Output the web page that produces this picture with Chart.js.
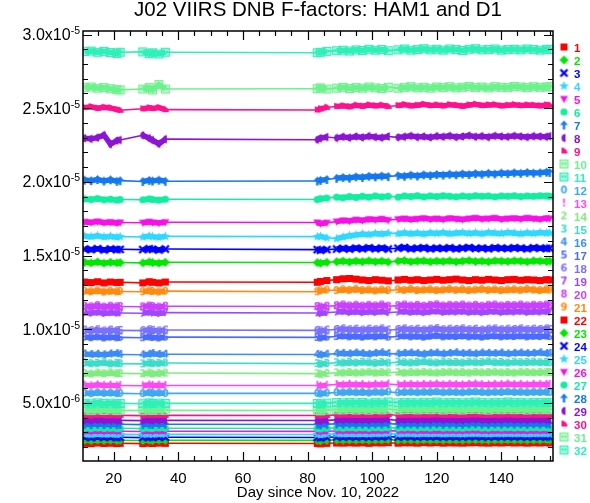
<!DOCTYPE html>
<html>
<head>
<meta charset="utf-8">
<title>J02 VIIRS DNB F-factors: HAM1 and D1</title>
<script src="https://cdn.jsdelivr.net/npm/chart.js@4.4.1/dist/chart.umd.min.js"></script>
<style>
  html, body { margin: 0; padding: 0; background: #fff; }
  canvas { display: block; }
</style>
</head>
<body>
<canvas id="ffChart" width="590" height="503"></canvas>
<script>
// Day since Nov. 10, 2022 (shared by every detector)
const days = [
  11, 13, 15, 17, 19, 21, 22,
  29, 31, 32, 34, 36,
  83, 84, 86,
  89, 91, 93, 95, 97, 99, 101, 103, 105,
  108, 110, 112, 114, 116, 118, 120, 122, 124, 126, 128, 130,
  132, 134, 136, 138, 140, 142, 144, 146, 148, 150, 152, 154,
  155
];

// F-factors in units of 1e-6, one array per detector
const ff01 = [
  2.25, 2.23, 2.27, 2.24, 2.26, 2.23, 2.25,
  2.23, 2.26, 2.24, 2.26, 2.25,
  2.24, 2.21, 2.25,
  2.27, 2.26, 2.28, 2.26, 2.28, 2.25, 2.28, 2.27, 2.29,
  2.26, 2.28, 2.28, 2.26, 2.29, 2.27, 2.29, 2.26, 2.28, 2.27, 2.26, 2.28,
  2.29, 2.27, 2.26, 2.28, 2.27, 2.29, 2.27, 2.28, 2.26, 2.28, 2.27, 2.29,
  2.27
];
const ff02 = [
  2.46, 2.44, 2.48, 2.45, 2.47, 2.44, 2.46,
  2.44, 2.47, 2.45, 2.47, 2.46,
  2.45, 2.42, 2.46,
  2.48, 2.47, 2.49, 2.47, 2.49, 2.46, 2.49, 2.48, 2.50,
  2.47, 2.49, 2.49, 2.47, 2.50, 2.48, 2.50, 2.47, 2.49, 2.48, 2.47, 2.49,
  2.50, 2.48, 2.47, 2.49, 2.48, 2.50, 2.48, 2.49, 2.47, 2.49, 2.48, 2.50,
  2.48
];
const ff03 = [
  2.66, 2.64, 2.68, 2.65, 2.67, 2.64, 2.66,
  2.64, 2.67, 2.65, 2.67, 2.66,
  2.65, 2.62, 2.66,
  2.68, 2.67, 2.69, 2.67, 2.69, 2.66, 2.69, 2.68, 2.70,
  2.67, 2.69, 2.69, 2.67, 2.70, 2.68, 2.70, 2.67, 2.69, 2.68, 2.67, 2.69,
  2.70, 2.68, 2.67, 2.69, 2.68, 2.70, 2.68, 2.69, 2.67, 2.69, 2.68, 2.70,
  2.68
];
const ff04 = [
  2.86, 2.84, 2.88, 2.85, 2.87, 2.84, 2.86,
  2.84, 2.87, 2.85, 2.87, 2.86,
  2.85, 2.82, 2.86,
  2.88, 2.87, 2.89, 2.87, 2.89, 2.86, 2.89, 2.88, 2.90,
  2.87, 2.89, 2.89, 2.87, 2.90, 2.88, 2.90, 2.87, 2.89, 2.88, 2.87, 2.89,
  2.90, 2.88, 2.87, 2.89, 2.88, 2.90, 2.88, 2.89, 2.87, 2.89, 2.88, 2.90,
  2.88
];
const ff05 = [
  3.07, 3.05, 3.09, 3.06, 3.08, 3.05, 3.07,
  3.05, 3.08, 3.06, 3.08, 3.07,
  3.06, 3.03, 3.07,
  3.09, 3.08, 3.10, 3.08, 3.10, 3.07, 3.10, 3.09, 3.11,
  3.08, 3.10, 3.10, 3.08, 3.11, 3.09, 3.11, 3.08, 3.10, 3.09, 3.08, 3.10,
  3.11, 3.09, 3.08, 3.10, 3.09, 3.11, 3.09, 3.10, 3.08, 3.10, 3.09, 3.11,
  3.09
];
const ff06 = [
  3.27, 3.25, 3.29, 3.26, 3.28, 3.25, 3.27,
  3.25, 3.28, 3.26, 3.29, 3.27,
  3.26, 3.23, 3.27,
  3.30, 3.28, 3.31, 3.28, 3.30, 3.27, 3.31, 3.29, 3.31,
  3.28, 3.30, 3.31, 3.28, 3.31, 3.29, 3.32, 3.28, 3.30, 3.29, 3.28, 3.31,
  3.32, 3.29, 3.28, 3.31, 3.29, 3.31, 3.29, 3.31, 3.28, 3.31, 3.29, 3.31,
  3.29
];
const ff07 = [
  3.54, 3.52, 3.56, 3.53, 3.55, 3.52, 3.54,
  3.52, 3.55, 3.53, 3.56, 3.54,
  3.53, 3.50, 3.54,
  3.57, 3.55, 3.58, 3.55, 3.57, 3.54, 3.58, 3.56, 3.58,
  3.55, 3.57, 3.58, 3.55, 3.58, 3.56, 3.59, 3.55, 3.57, 3.56, 3.55, 3.58,
  3.59, 3.56, 3.55, 3.58, 3.56, 3.58, 3.56, 3.58, 3.55, 3.58, 3.56, 3.58,
  3.56
];
const ff08 = [
  3.81, 3.79, 3.83, 3.80, 3.82, 3.79, 3.81,
  3.79, 3.83, 3.80, 3.82, 3.81,
  3.80, 3.77, 3.81,
  3.84, 3.83, 3.85, 3.82, 3.84, 3.81, 3.85, 3.83, 3.86,
  3.82, 3.84, 3.85, 3.82, 3.85, 3.83, 3.86, 3.82, 3.85, 3.83, 3.82, 3.85,
  3.86, 3.83, 3.82, 3.85, 3.83, 3.86, 3.83, 3.85, 3.82, 3.85, 3.83, 3.85,
  3.83
];
const ff09 = [
  4.15, 4.13, 4.17, 4.14, 4.16, 4.13, 4.15,
  4.13, 4.17, 4.14, 4.16, 4.15,
  4.14, 4.11, 4.15,
  4.18, 4.17, 4.19, 4.16, 4.18, 4.15, 4.19, 4.17, 4.20,
  4.16, 4.18, 4.19, 4.16, 4.19, 4.17, 4.20, 4.16, 4.19, 4.17, 4.16, 4.19,
  4.20, 4.17, 4.16, 4.19, 4.17, 4.20, 4.17, 4.19, 4.16, 4.19, 4.17, 4.19,
  4.17
];
const ff10 = [
  4.50, 4.47, 4.52, 4.48, 4.51, 4.47, 4.49,
  4.47, 4.52, 4.48, 4.50, 4.49,
  4.48, 4.45, 4.50,
  4.53, 4.52, 4.55, 4.51, 4.54, 4.50, 4.55, 4.52, 4.56,
  4.51, 4.54, 4.55, 4.52, 4.55, 4.53, 4.56, 4.51, 4.55, 4.53, 4.51, 4.55,
  4.56, 4.53, 4.51, 4.55, 4.53, 4.56, 4.53, 4.55, 4.51, 4.55, 4.53, 4.55,
  4.53
];
const ff11 = [
  4.98, 4.94, 5.00, 4.96, 4.98, 4.94, 4.96,
  4.94, 5.00, 4.96, 4.98, 4.96,
  4.96, 4.92, 4.98,
  5.02, 5.00, 5.04, 5.00, 5.02, 4.98, 5.04, 5.00, 5.06,
  5.00, 5.02, 5.04, 5.00, 5.04, 5.02, 5.06, 5.00, 5.04, 5.02, 5.00, 5.04,
  5.06, 5.02, 5.00, 5.04, 5.02, 5.06, 5.02, 5.04, 5.00, 5.04, 5.02, 5.04,
  5.02
];
const ff12 = [
  5.66, 5.62, 5.68, 5.64, 5.66, 5.62, 5.64,
  5.62, 5.68, 5.64, 5.66, 5.64,
  5.64, 5.60, 5.66,
  5.70, 5.68, 5.72, 5.68, 5.70, 5.66, 5.72, 5.68, 5.74,
  5.68, 5.70, 5.72, 5.68, 5.72, 5.70, 5.74, 5.68, 5.72, 5.70, 5.68, 5.72,
  5.74, 5.70, 5.68, 5.72, 5.70, 5.74, 5.70, 5.72, 5.68, 5.72, 5.70, 5.72,
  5.70
];
const ff13 = [
  6.20, 6.16, 6.22, 6.18, 6.20, 6.16, 6.18,
  6.16, 6.22, 6.18, 6.20, 6.18,
  6.18, 6.14, 6.20,
  6.24, 6.22, 6.26, 6.22, 6.24, 6.20, 6.26, 6.22, 6.28,
  6.22, 6.24, 6.26, 6.22, 6.26, 6.24, 6.28, 6.22, 6.26, 6.24, 6.22, 6.26,
  6.28, 6.24, 6.22, 6.26, 6.24, 6.28, 6.24, 6.26, 6.22, 6.26, 6.24, 6.26,
  6.24
];
const ff14 = [
  7.00, 6.96, 7.02, 6.98, 7.04, 6.98, 7.00,
  6.98, 7.02, 6.96, 7.00, 7.02,
  6.98, 6.94, 7.00,
  7.04, 7.02, 7.06, 7.02, 7.04, 7.08, 7.02, 7.06, 7.04,
  7.08, 7.02, 7.06, 7.04, 7.08, 7.04, 7.02, 7.06, 7.08, 7.04, 7.06, 7.02,
  7.08, 7.04, 7.06, 7.08, 7.04, 7.06, 7.02, 7.08, 7.06, 7.04, 7.06, 7.08,
  7.06
];
const ff15 = [
  7.70, 7.66, 7.68, 7.72, 7.64, 7.68, 7.66,
  7.64, 7.70, 7.66, 7.68, 7.70,
  7.66, 7.62, 7.68,
  7.72, 7.70, 7.74, 7.70, 7.76, 7.72, 7.68, 7.74, 7.70,
  7.76, 7.72, 7.70, 7.74, 7.78, 7.72, 7.70, 7.76, 7.72, 7.74, 7.70, 7.76,
  7.72, 7.74, 7.78, 7.72, 7.74, 7.70, 7.76, 7.72, 7.74, 7.76, 7.72, 7.74,
  7.72
];
const ff16 = [
  8.32, 8.28, 8.30, 8.26, 8.32, 8.34, 8.28,
  8.26, 8.30, 8.34, 8.28, 8.30,
  8.28, 8.24, 8.30,
  8.34, 8.36, 8.32, 8.38, 8.34, 8.30, 8.36, 8.40, 8.34,
  8.32, 8.36, 8.38, 8.34, 8.30, 8.36, 8.38, 8.32, 8.36, 8.40, 8.34, 8.36,
  8.32, 8.38, 8.36, 8.34, 8.38, 8.32, 8.36, 8.38, 8.34, 8.36, 8.40, 8.34,
  8.36
];
const ff17 = [
  9.46, 9.42, 9.48, 9.40, 9.46, 9.42, 9.44,
  9.42, 9.48, 9.44, 9.40, 9.46,
  9.44, 9.40, 9.46,
  9.50, 9.54, 9.48, 9.52, 9.46, 9.52, 9.48, 9.54, 9.46,
  9.50, 9.54, 9.48, 9.52, 9.46, 9.52, 9.56, 9.48, 9.52, 9.50, 9.54, 9.48,
  9.52, 9.46, 9.52, 9.54, 9.48, 9.52, 9.50, 9.54, 9.48, 9.52, 9.50, 9.54,
  9.50
];
const ff18 = [
  9.94, 9.90, 9.96, 9.88, 9.94, 9.90, 9.92,
  9.90, 9.96, 9.92, 9.88, 9.94,
  9.92, 9.88, 9.94,
  9.98, 10.02, 9.96, 10.00, 9.94, 10.00, 9.96, 10.02, 9.94,
  9.98, 10.02, 9.96, 10.00, 9.94, 10.00, 10.04, 9.96, 10.00, 9.98, 10.02, 9.96,
  10.00, 9.94, 10.00, 10.02, 9.96, 10.00, 9.98, 10.02, 9.96, 10.00, 9.98, 10.02,
  9.98
];
const ff19 = [
  11.12, 11.08, 11.14, 11.06, 11.12, 11.08, 11.10,
  11.08, 11.14, 11.10, 11.06, 11.12,
  11.10, 11.06, 11.12,
  11.16, 11.20, 11.14, 11.18, 11.12, 11.18, 11.14, 11.20, 11.12,
  11.16, 11.20, 11.14, 11.18, 11.12, 11.18, 11.22, 11.14, 11.18, 11.16, 11.20, 11.14,
  11.18, 11.12, 11.18, 11.20, 11.14, 11.18, 11.16, 11.20, 11.14, 11.18, 11.16, 11.20,
  11.16
];
const ff20 = [
  11.56, 11.52, 11.60, 11.50, 11.56, 11.52, 11.54,
  11.52, 11.58, 11.54, 11.50, 11.56,
  11.54, 11.50, 11.56,
  11.60, 11.64, 11.58, 11.62, 11.56, 11.62, 11.58, 11.64, 11.56,
  11.60, 11.64, 11.58, 11.62, 11.56, 11.62, 11.66, 11.58, 11.62, 11.60, 11.64, 11.58,
  11.62, 11.56, 11.62, 11.64, 11.58, 11.62, 11.60, 11.64, 11.58, 11.62, 11.60, 11.64,
  11.60
];
const ff21 = [
  12.58, 12.54, 12.60, 12.52, 12.58, 12.54, 12.56,
  12.54, 12.60, 12.56, 12.52, 12.58,
  12.54, 12.60, 12.66,
  12.62, 12.68, 12.64, 12.70, 12.62, 12.66, 12.60, 12.66, 12.62,
  12.68, 12.64, 12.70, 12.62, 12.66, 12.68, 12.62, 12.66, 12.70, 12.64, 12.68, 12.62,
  12.66, 12.70, 12.64, 12.68, 12.62, 12.66, 12.68, 12.64, 12.70, 12.66, 12.62, 12.68,
  12.66
];
const ff22 = [
  13.20, 13.16, 13.22, 13.14, 13.20, 13.16, 13.18,
  13.14, 13.22, 13.18, 13.14, 13.20,
  13.18, 13.24, 13.30,
  13.36, 13.42, 13.44, 13.40, 13.34, 13.30, 13.36, 13.32, 13.28,
  13.34, 13.38, 13.32, 13.36, 13.30, 13.34, 13.38, 13.32, 13.36, 13.40, 13.34, 13.30,
  13.36, 13.32, 13.38, 13.34, 13.30, 13.36, 13.38, 13.32, 13.36, 13.34, 13.30, 13.36,
  13.34
];
const ff23 = [
  14.54, 14.50, 14.56, 14.48, 14.54, 14.50, 14.52,
  14.50, 14.56, 14.52, 14.48, 14.54,
  14.52, 14.48, 14.54,
  14.58, 14.62, 14.56, 14.62, 14.58, 14.64, 14.58, 14.62, 14.56,
  14.62, 14.66, 14.58, 14.62, 14.64, 14.58, 14.62, 14.60, 14.64, 14.58, 14.62, 14.66,
  14.60, 14.62, 14.58, 14.64, 14.62, 14.60, 14.64, 14.62, 14.58, 14.64, 14.62, 14.60,
  14.62
];
const ff24 = [
  15.44, 15.40, 15.46, 15.38, 15.44, 15.40, 15.42,
  15.40, 15.46, 15.42, 15.38, 15.44,
  15.40, 15.36, 15.40,
  15.44, 15.48, 15.44, 15.50, 15.46, 15.52, 15.46, 15.50, 15.44,
  15.50, 15.54, 15.46, 15.50, 15.52, 15.46, 15.50, 15.48, 15.52, 15.46, 15.50, 15.54,
  15.48, 15.50, 15.46, 15.52, 15.50, 15.48, 15.52, 15.50, 15.46, 15.52, 15.50, 15.48,
  15.50
];
const ff25 = [
  16.32, 16.28, 16.34, 16.26, 16.30, 16.24, 16.28,
  16.26, 16.32, 16.28, 16.24, 16.30,
  16.28, 16.30, 16.20,
  16.14, 16.26, 16.34, 16.40, 16.46, 16.42, 16.50, 16.46, 16.52,
  16.48, 16.54, 16.48, 16.52, 16.46, 16.54, 16.50, 16.56, 16.48, 16.52, 16.56, 16.50,
  16.54, 16.48, 16.56, 16.52, 16.50, 16.56, 16.52, 16.48, 16.54, 16.50, 16.56, 16.52,
  16.54
];
const ff26 = [
  17.28, 17.24, 17.30, 17.22, 17.26, 17.20, 17.24,
  17.22, 17.28, 17.24, 17.20, 17.26,
  17.24, 17.16, 17.22,
  17.30, 17.38, 17.34, 17.42, 17.38, 17.46, 17.42, 17.48, 17.40,
  17.46, 17.50, 17.44, 17.48, 17.52, 17.46, 17.50, 17.44, 17.52, 17.48, 17.44, 17.50,
  17.54, 17.48, 17.50, 17.54, 17.46, 17.50, 17.52, 17.48, 17.54, 17.50, 17.46, 17.52,
  17.50
];
const ff27 = [
  18.84, 18.80, 18.86, 18.78, 18.82, 18.76, 18.80,
  18.78, 18.84, 18.80, 18.76, 18.82,
  18.80, 18.86, 18.90,
  18.96, 18.92, 19.00, 18.94, 19.02, 18.96, 19.04, 18.98, 19.02,
  18.96, 19.04, 19.00, 19.06, 18.98, 19.04, 19.00, 19.06, 19.02, 18.98, 19.04, 19.00,
  19.06, 19.02, 19.04, 18.98, 19.04, 19.02, 19.06, 19.00, 19.04, 19.02, 19.06, 19.04,
  19.02
];
const ff28 = [
  20.12, 20.08, 20.16, 20.06, 20.14, 20.04, 20.08,
  20.02, 20.10, 20.06, 20.12, 20.04,
  20.06, 20.10, 20.16,
  20.24, 20.30, 20.26, 20.34, 20.30, 20.38, 20.34, 20.40, 20.36,
  20.42, 20.38, 20.46, 20.40, 20.48, 20.44, 20.50, 20.46, 20.52, 20.48, 20.54, 20.50,
  20.56, 20.52, 20.58, 20.54, 20.60, 20.56, 20.62, 20.58, 20.64, 20.60, 20.62, 20.66,
  20.64
];
const ff29 = [
  22.96, 22.92, 23.00, 23.18, 22.56, 22.80, 22.84,
  23.16, 22.96, 22.84, 22.58, 22.90,
  22.86, 22.96, 23.04,
  22.98, 23.06, 23.00, 23.08, 23.02, 23.10, 23.04, 23.00, 23.08,
  23.02, 23.06, 23.12, 23.04, 23.08, 23.02, 23.10, 23.06, 23.12, 23.04, 23.08, 23.14,
  23.06, 23.10, 23.04, 23.12, 23.08, 23.06, 23.12, 23.08, 23.04, 23.10, 23.08, 23.06,
  23.10
];
const ff30 = [
  25.04, 25.10, 25.00, 25.06, 25.02, 24.90, 24.86,
  24.96, 25.02, 24.98, 25.04, 24.90,
  24.88, 24.96, 25.06,
  25.12, 25.16, 25.10, 25.20, 25.14, 25.22, 25.16, 25.20, 25.12,
  25.18, 25.24, 25.16, 25.20, 25.26, 25.18, 25.22, 25.16, 25.24, 25.20, 25.14, 25.22,
  25.26, 25.18, 25.22, 25.24, 25.16, 25.20, 25.24, 25.18, 25.22, 25.20, 25.16, 25.22,
  25.20
];
const ff31 = [
  26.40, 26.44, 26.36, 26.40, 26.32, 26.26, 26.24,
  26.30, 26.40, 26.24, 26.60, 26.30,
  26.32, 26.38, 26.30,
  26.36, 26.42, 26.34, 26.40, 26.36, 26.44, 26.38, 26.34, 26.42,
  26.36, 26.40, 26.46, 26.38, 26.42, 26.36, 26.44, 26.40, 26.46, 26.38, 26.42, 26.48,
  26.40, 26.44, 26.38, 26.46, 26.42, 26.40, 26.48, 26.44, 26.40, 26.46, 26.42, 26.44,
  26.46
];
const ff32 = [
  28.84, 28.88, 28.80, 28.86, 28.78, 28.72, 28.80,
  28.82, 28.70, 28.76, 28.68, 28.80,
  28.76, 28.80, 28.86,
  28.90, 28.94, 28.88, 28.96, 28.92, 29.00, 28.94, 28.98, 28.90,
  28.96, 29.02, 28.94, 28.98, 29.04, 28.96, 29.00, 28.94, 29.02, 28.98, 28.92, 29.00,
  29.04, 28.96, 28.98, 29.02, 28.94, 28.98, 29.00, 28.96, 29.02, 28.98, 28.94, 29.00,
  28.98
];

// Axis ticks
const xTickValues = [20, 40, 60, 80, 100, 120, 140];
const yTickValues = [5e-6, 1.0e-5, 1.5e-5, 2.0e-5, 2.5e-5, 3.0e-5];
const yTickMantissas = ['5.0', '1.0', '1.5', '2.0', '2.5', '3.0'];
const yTickExponents = ['-6', '-5', '-5', '-5', '-5', '-5'];

// Colours and plot symbols repeat every 21 detectors
const palette = [
  '#ff0000', '#00e800', '#0000ff', '#30d8ff', '#f810e8', '#10eea0', '#1478f0',
  '#8c14d4', '#ff108c', '#6cf28c', '#2ef0b8', '#40a8f0', '#ff48f4', '#80ec80',
  '#3cdcc8', '#3c8cf8', '#4a6cff', '#7c70ff', '#a048ff', '#cc40ff', '#ff8a10'
];
const symbols = [
  'square', 'diamond', 'cross', 'star', 'triDown', 'circle', 'arrow', 'half', 'wedge',
  'box', 'box', '0', '!', '2', '3', '4', '5', '6', '7', '8', '9'
];

const series = [ff01, ff02, ff03, ff04, ff05, ff06, ff07, ff08, ff09, ff10, ff11,
  ff12, ff13, ff14, ff15, ff16, ff17, ff18, ff19, ff20, ff21, ff22, ff23, ff24,
  ff25, ff26, ff27, ff28, ff29, ff30, ff31, ff32];

// small canvas used as the point symbol
function makeMarker(kind, color) {
    const c = document.createElement('canvas');
    c.width = 11;
    c.height = 11;
    const g = c.getContext('2d');
    const m = 5.5;
    g.fillStyle = color;
    g.strokeStyle = color;
    g.beginPath();
    switch (kind) {
        case 'square':
            g.fillRect(2, 2, 7, 7);
            break;
        case 'diamond':
            g.moveTo(m, 1); g.lineTo(10, m); g.lineTo(m, 10); g.lineTo(1, m);
            g.closePath(); g.fill();
            break;
        case 'cross':
            g.lineWidth = 2.4;
            g.moveTo(2, 2); g.lineTo(9, 9); g.moveTo(9, 2); g.lineTo(2, 9);
            g.stroke();
            break;
        case 'star':
            for (let k = 0; k < 10; k++) {
                const r = k % 2 ? 2.2 : 5;
                const a = -Math.PI / 2 + k * Math.PI / 5;
                g.lineTo(m + r * Math.cos(a), m + r * Math.sin(a));
            }
            g.closePath(); g.fill();
            break;
        case 'triDown':
            g.moveTo(1.5, 2.5); g.lineTo(9.5, 2.5); g.lineTo(m, 9.5);
            g.closePath(); g.fill();
            break;
        case 'circle':
            g.arc(m, m, 3.6, 0, Math.PI * 2); g.fill();
            break;
        case 'arrow':
            g.moveTo(m, 1); g.lineTo(9.5, 5.5); g.lineTo(1.5, 5.5);
            g.closePath(); g.fill();
            g.fillRect(4.3, 5, 2.4, 5);
            break;
        case 'half':
            g.arc(7, m, 4, Math.PI / 2, Math.PI * 1.5); g.closePath(); g.fill();
            break;
        case 'wedge':
            g.moveTo(3, 8); g.arc(3, 8, 6, -Math.PI / 2, 0); g.closePath(); g.fill();
            break;
        case 'box':
            g.globalAlpha = 0.45;
            g.fillRect(1.5, 1.5, 8, 8);
            g.globalAlpha = 1;
            g.lineWidth = 1;
            g.strokeRect(1.5, 1.5, 8, 8);
            g.fillRect(3, 4, 2, 2);
            g.fillRect(6, 4, 2, 2);
            break;
        default:
            g.font = 'bold 10px "DejaVu Sans", sans-serif';
            g.textAlign = 'center';
            g.textBaseline = 'middle';
            g.fillText(kind, m, m + 0.5);
    }
    return c;
}

const seriesColors = series.map((_, i) => palette[i % palette.length]);
const seriesMarkers = series.map((_, i) => makeMarker(symbols[i % symbols.length], seriesColors[i]));

// Frame, inward ticks, axis texts and the numbered legend (IDL look)
const idlFrame = {
    id: 'idlFrame',
    afterDraw(chart) {
        const { ctx, chartArea: a, scales: { x, y } } = chart;
        ctx.save();
        ctx.strokeStyle = '#000';
        ctx.fillStyle = '#000';

        ctx.lineWidth = 1.5;
        ctx.strokeRect(a.left, a.top, a.right - a.left, a.bottom - a.top);

        ctx.lineWidth = 1.2;
        ctx.beginPath();
        for (let d = 15; d <= 155; d += 5) {
            const px = Math.round(x.getPixelForValue(d)) + 0.5;
            const len = d % 20 === 0 ? 9 : 5;
            ctx.moveTo(px, a.bottom); ctx.lineTo(px, a.bottom - len);
            ctx.moveTo(px, a.top); ctx.lineTo(px, a.top + len);
        }
        for (let v = 2; v <= 30; v++) {
            const py = Math.round(y.getPixelForValue(v * 1e-6)) + 0.5;
            const len = v % 5 === 0 ? 9 : 5;
            ctx.moveTo(a.left, py); ctx.lineTo(a.left + len, py);
            ctx.moveTo(a.right, py); ctx.lineTo(a.right - len, py);
        }
        ctx.stroke();

        // title
        ctx.font = '20.5px "Liberation Sans", Arial, sans-serif';
        ctx.textAlign = 'center';
        ctx.textBaseline = 'alphabetic';
        ctx.fillText('J02 VIIRS DNB F-factors: HAM1 and D1', (a.left + a.right) / 2, 16);

        // x labels
        ctx.font = '15px "Liberation Sans", Arial, sans-serif';
        xTickValues.forEach(v => ctx.fillText(String(v), x.getPixelForValue(v), 483));
        ctx.fillText('Day since Nov. 10, 2022', (a.left + a.right) / 2, 497);

        // y labels with superscript exponent
        ctx.textAlign = 'left';
        yTickValues.forEach((v, i) => {
            const py = y.getPixelForValue(v);
            const main = yTickMantissas[i] + 'x10';
            ctx.font = '16px "Liberation Sans", Arial, sans-serif';
            const wMain = ctx.measureText(main).width;
            ctx.font = '10.5px "Liberation Sans", Arial, sans-serif';
            const wExp = ctx.measureText(yTickExponents[i]).width;
            const x0 = 80 - wMain - wExp;
            ctx.fillText(yTickExponents[i], x0 + wMain, py - 0.5);
            ctx.font = '16px "Liberation Sans", Arial, sans-serif';
            ctx.fillText(main, x0, py + 5.5);
        });

        // legend
        ctx.font = 'bold 11.5px "Liberation Sans", Arial, sans-serif';
        series.forEach((_, i) => {
            const ly = 47 + i * 13;
            const mk = seriesMarkers[i];
            ctx.drawImage(mk, 564 - mk.width / 2, ly - mk.height / 2);
            ctx.fillStyle = seriesColors[i];
            ctx.fillText(String(i + 1), 574, ly + 4.5);
        });
        ctx.restore();
    }
};

const ctx = document.getElementById('ffChart').getContext('2d');

const chart = new Chart(ctx, {
    type: 'line',
    data: {
        datasets: series.map((vals, i) => ({
            label: String(i + 1),
            data: days.map((d, k) => ({ x: d, y: vals[k] * 1e-6 })),
            borderColor: seriesColors[i],
            backgroundColor: seriesColors[i],
            borderWidth: 5.5,
            pointStyle: seriesMarkers[i],
            pointRadius: 3,
            fill: false,
            tension: 0,
            order: series.length - i,
            segment: {
                // only the jumps over missing days are drawn as a thin line
                borderWidth: s => (s.p1.parsed.x - s.p0.parsed.x > 2 ? 1.6 : 5.5)
            }
        }))
    },
    options: {
        responsive: false,
        animation: false,
        events: [],
        layout: { padding: { top: 31, right: 37, bottom: 0, left: 0 } },
        plugins: {
            legend: { display: false },
            title: { display: false },
            tooltip: { enabled: false }
        },
        scales: {
            x: {
                type: 'linear',
                min: 10.5,
                max: 156,
                grid: { display: false },
                border: { display: false },
                ticks: { display: false },
                afterFit: s => { s.height = 42; }
            },
            y: {
                type: 'linear',
                min: 1.05e-6,
                max: 3.024e-5,
                grid: { display: false },
                border: { display: false },
                ticks: { display: false },
                afterFit: s => { s.width = 83; }
            }
        }
    },
    plugins: [idlFrame]
});
</script>
</body>
</html>
